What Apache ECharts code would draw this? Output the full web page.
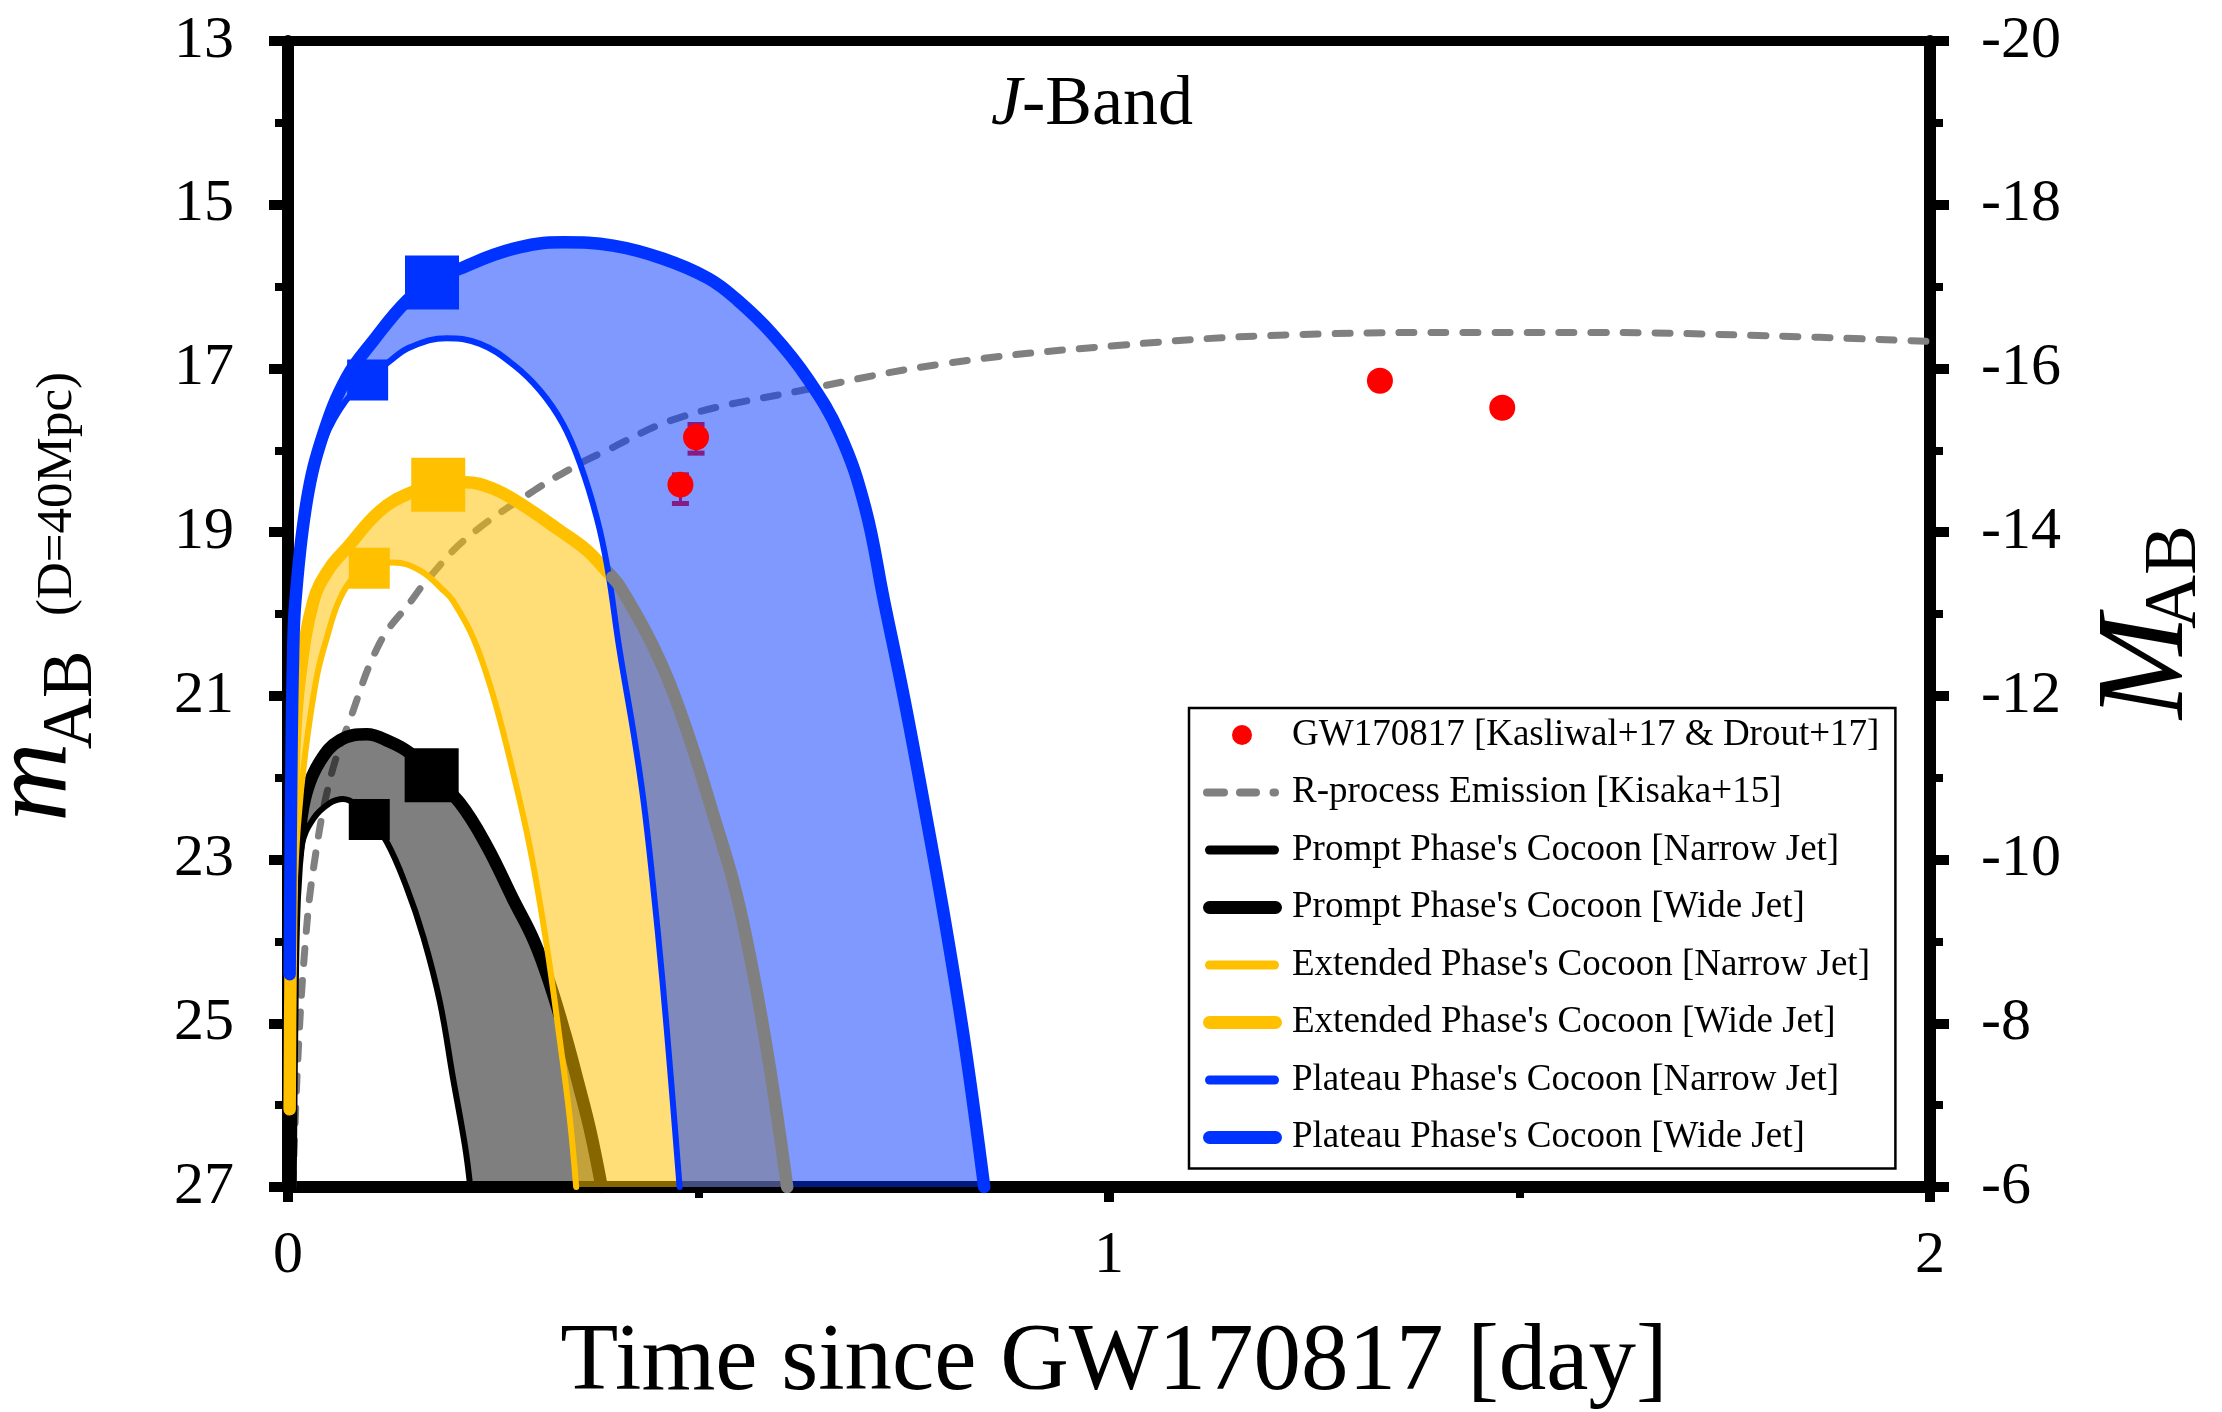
<!DOCTYPE html>
<html><head><meta charset="utf-8">
<script src="https://cdn.jsdelivr.net/npm/echarts@6/dist/echarts.min.js"></script>
<style>html,body{margin:0;padding:0;background:#fff}#c{width:2222px;height:1412px}</style>
</head><body><div id="c"></div>
<script>
// ---------------- data ----------------
const gwT      = [0.478, 0.497, 1.330, 1.479];
const gwM      = [18.42, 17.84, 17.15, 17.48];
const gwErrUp  = [0.12, 0.155, 0, 0];
const gwErrLow = [0.23, 0.195, 0, 0];

const rprocT = [0.006, 0.012, 0.021, 0.031, 0.051, 0.0755, 0.112, 0.150, 0.169, 0.218, 0.300, 0.356, 0.380, 0.477, 0.625, 0.800, 1.010, 1.220, 1.457, 1.590, 1.800, 2.000];
const rprocM = [27.0, 25.44, 24.03, 23.11, 22.03, 21.29, 20.35, 19.84, 19.59, 19.07, 18.49, 18.16, 18.04, 17.60, 17.27, 16.94, 16.72, 16.59, 16.56, 16.56, 16.60, 16.67];

const promptNarrowT = [0.003, 0.006, 0.010, 0.0167, 0.031, 0.051, 0.067, 0.083, 0.099, 0.120, 0.1445, 0.165, 0.185, 0.201, 0.2156, 0.222];
const promptNarrowM = [27.0, 25.2, 23.7, 22.83, 22.50, 22.31, 22.26, 22.33, 22.51, 22.78, 23.34, 23.95, 24.74, 25.67, 26.50, 27.0];
const promptWideT = [0.003, 0.005, 0.008, 0.0146, 0.0228, 0.039, 0.0633, 0.0958, 0.124, 0.1486, 0.175, 0.2095, 0.242, 0.274, 0.300, 0.320, 0.338, 0.354, 0.369, 0.382];
const promptWideM = [27.0, 25.0, 23.5, 22.64, 22.17, 21.80, 21.54, 21.47, 21.56, 21.70, 21.97, 22.31, 22.83, 23.48, 24.00, 24.55, 25.15, 25.75, 26.35, 27.0];

const extNarrowT = [0.002, 0.004, 0.007, 0.012, 0.021, 0.035, 0.047, 0.062, 0.080, 0.099, 0.128, 0.161, 0.189, 0.201, 0.226, 0.250, 0.274, 0.295, 0.315, 0.331, 0.343, 0.351];
const extNarrowM = [26.05, 24.8, 23.6, 22.6, 21.7, 20.77, 20.3, 19.84, 19.55, 19.44, 19.37, 19.47, 19.71, 19.84, 20.30, 21.00, 21.93, 22.87, 24.04, 25.20, 26.14, 27.0];
const extWideT = [0.002, 0.003, 0.005, 0.0075, 0.0146, 0.031, 0.050, 0.072, 0.112, 0.149, 0.183, 0.216, 0.250, 0.283, 0.331, 0.364, 0.384, 0.395];
const extWideM = [26.05, 24.5, 23.0, 21.7, 20.77, 19.84, 19.45, 19.19, 18.74, 18.52, 18.42, 18.39, 18.47, 18.65, 18.98, 19.22, 19.43, 19.55];
const extWideLateT = [0.395, 0.404, 0.437, 0.465, 0.494, 0.518, 0.5445, 0.567, 0.587, 0.608];
const extWideLateM = [19.55, 19.66, 20.24, 20.85, 21.67, 22.45, 23.35, 24.40, 25.55, 27.0];

const platNarrowT = [0.002, 0.004, 0.008, 0.014, 0.025, 0.045, 0.070, 0.097, 0.124, 0.149, 0.193, 0.234, 0.274, 0.307, 0.335, 0.356, 0.376, 0.389, 0.404, 0.421, 0.433, 0.444, 0.456, 0.4665, 0.477];
const platNarrowM = [24.4, 22.3, 20.3, 19.3, 18.5, 17.85, 17.4, 17.14, 16.91, 16.74, 16.63, 16.70, 16.95, 17.27, 17.68, 18.17, 18.82, 19.43, 20.45, 21.46, 22.28, 23.25, 24.47, 25.69, 27.0];
const platWideT = [0.002, 0.004, 0.006, 0.009, 0.023, 0.043, 0.0715, 0.104, 0.145, 0.1754, 0.2095, 0.274, 0.335, 0.396, 0.457, 0.512, 0.548, 0.590, 0.632, 0.672, 0.703, 0.726, 0.751, 0.776, 0.801, 0.825, 0.848];
const platWideM = [24.4, 22.0, 20.6, 19.84, 18.61, 17.80, 17.11, 16.66, 16.17, 15.95, 15.78, 15.54, 15.46, 15.50, 15.66, 15.90, 16.17, 16.58, 17.11, 17.80, 18.70, 19.84, 21.06, 22.4, 23.8, 25.3, 27.0];

// square markers: [prompt, extended, plateau]
const markNarrowT = [0.099, 0.099, 0.097];
const markNarrowM = [22.51, 19.44, 17.14];
const markWideT   = [0.175, 0.183, 0.1754];
const markWideM   = [21.97, 18.42, 15.95];

const xTickRange = [0, 2, 1];        // min, max, interval
const yLeftRange = [13, 27, 2];
const yRightRange = [-20, -6, 2];

const legendNames = [
  'GW170817 [Kasliwal+17 & Drout+17]',
  'R-process Emission [Kisaka+15]',
  "Prompt Phase's Cocoon [Narrow Jet]",
  "Prompt Phase's Cocoon [Wide Jet]",
  "Extended Phase's Cocoon [Narrow Jet]",
  "Extended Phase's Cocoon [Wide Jet]",
  "Plateau Phase's Cocoon [Narrow Jet]",
  "Plateau Phase's Cocoon [Wide Jet]"
];

// ---------------- styles ----------------
const FONT = 'Liberation Serif';
const BLACK = '#000000', YELLOW = '#FFC000', BLUE = '#0033FF', GRAY = '#808080';
const SM = 0.4;
const THIN = 6, THICK = 12.5;

function pairs(t, m) { return t.map((v, i) => [v, m[i]]); }

function lineSeries(name, t, m, color, width, z) {
  return { type: 'line', name, data: pairs(t, m), z, smooth: SM, symbol: 'none', showSymbol: false,
    lineStyle: { color, width, join: 'round', cap: 'round' }, itemStyle: { color, opacity: 1 }, silent: true };
}

function bandSeries(id, outT, outM, inT, inM, fill, z) {
  return {
    type: 'custom', name: id, z, silent: true, coordinateSystem: 'cartesian2d',
    data: [[outT[0], outM[0]]],
    renderItem: function (params, api) {
      const pts = [];
      for (let i = 0; i < outT.length; i++) pts.push(api.coord([outT[i], outM[i]]));
      const floor = yLeftRange[1] + 0.6;
      pts.push(api.coord([outT[outT.length - 1], floor]));
      pts.push(api.coord([inT[inT.length - 1], floor]));
      for (let i = inT.length - 1; i >= 1; i--) pts.push(api.coord([inT[i], inM[i]]));
      const cs = params.coordSys;
      return { type: 'polygon', shape: { points: pts, smooth: SM }, style: { fill },
        clipPath: { type: 'rect', shape: { x: cs.x, y: cs.y, width: cs.width, height: cs.height } } };
    }
  };
}

function markerSeries(id, color, idx, z) {
  return { type: 'scatter', name: id, z, silent: true, symbol: 'rect',
    data: [[markNarrowT[idx], markNarrowM[idx]], [markWideT[idx], markWideM[idx]]],
    symbolSize: (v, p) => (p.dataIndex === 0 ? 41 : 54),
    itemStyle: { color, opacity: 1 } };
}

const FRAME = 'M0,0M84,20';
const ICON_DOT = 'path://' + FRAME + 'M29,10a10,10 0 1,0 20,0a10,10 0 1,0 -20,0z';
const ICON_DASH = 'path://' + FRAME + 'M4,6h17a4,4 0 0,1 0,8h-17a4,4 0 0,1 0,-8z M37,6h16a4,4 0 0,1 0,8h-16a4,4 0 0,1 0,-8z M70.5,6h1.5a4,4 0 0,1 0,8h-1.5a4,4 0 0,1 0,-8z';
const ICON_THIN = 'path://' + FRAME + 'M6.5,5.5h65a4.5,4.5 0 0,1 0,9h-65a4.5,4.5 0 0,1 0,-9z';
const ICON_THICK = 'path://' + FRAME + 'M6.5,3.5h66a6.5,6.5 0 0,1 0,13h-66a6.5,6.5 0 0,1 0,-13z';
const legendIcons = [ICON_DOT, ICON_DASH, ICON_THIN, ICON_THICK, ICON_THIN, ICON_THICK, ICON_THIN, ICON_THICK];

const ERR_COLOR = '#851b85';

const chart = echarts.init(document.getElementById('c'), null, { renderer: 'canvas' });

const series = [
  Object.assign(lineSeries(legendNames[1], rprocT, rprocM, GRAY, 7, 1), { lineStyle: { color: GRAY, width: 7, type: [15, 17], cap: 'round' } }),
  bandSeries('promptBand', promptWideT, promptWideM, promptNarrowT, promptNarrowM, 'rgba(0,0,0,0.5)', 2),
  lineSeries(legendNames[2], promptNarrowT, promptNarrowM, BLACK, THIN, 3),
  lineSeries(legendNames[3], promptWideT, promptWideM, BLACK, THICK, 3),
  bandSeries('extBand', extWideT.concat(extWideLateT.slice(1)), extWideM.concat(extWideLateM.slice(1)), extNarrowT, extNarrowM, 'rgba(255,192,0,0.53)', 4),
  lineSeries(legendNames[4], extNarrowT, extNarrowM, YELLOW, THIN, 5),
  lineSeries(legendNames[5], extWideT, extWideM, YELLOW, THICK, 5),
  bandSeries('platBand', platWideT, platWideM, platNarrowT, platNarrowM, 'rgba(0,51,255,0.5)', 6),
  lineSeries(legendNames[6], platNarrowT, platNarrowM, BLUE, THIN, 7),
  lineSeries(legendNames[7], platWideT, platWideM, BLUE, THICK, 7),
  lineSeries('extLate', extWideLateT, extWideLateM, GRAY, THICK, 8),
  markerSeries('mkPrompt', BLACK, 0, 9),
  markerSeries('mkExt', YELLOW, 1, 9),
  markerSeries('mkPlat', BLUE, 2, 9),
  {
    type: 'custom', name: 'gwErr', z: 10, silent: true, coordinateSystem: 'cartesian2d',
    data: gwT.map((t, i) => [t, gwM[i], gwErrUp[i], gwErrLow[i]]), encode: { x: 0, y: 1 },
    renderItem: function (params, api) {
      const t = api.value(0), m = api.value(1), eu = api.value(2), el = api.value(3);
      if (!eu && !el) return null;
      const a = api.coord([t, m - eu]), b = api.coord([t, m + el]);
      const h = 8.5;
      return { type: 'group', children: [
        { type: 'line', shape: { x1: a[0], y1: a[1], x2: b[0], y2: b[1] }, style: { stroke: ERR_COLOR, lineWidth: 3 } },
        { type: 'line', shape: { x1: a[0] - h, y1: a[1], x2: a[0] + h, y2: a[1] }, style: { stroke: ERR_COLOR, lineWidth: 5 } },
        { type: 'line', shape: { x1: b[0] - h, y1: b[1], x2: b[0] + h, y2: b[1] }, style: { stroke: ERR_COLOR, lineWidth: 5 } }
      ] };
    }
  },
  { type: 'scatter', name: legendNames[0], z: 11, silent: true, symbol: 'circle', symbolSize: 26,
    data: pairs(gwT, gwM), itemStyle: { color: '#FF0000', opacity: 1 } }
];

const axisCommon = {
  axisLine: { show: true, onZero: false, lineStyle: { color: '#000', width: 12 } },
  splitLine: { show: false }, minorSplitLine: { show: false }
};

const option = {
  animation: false,
  backgroundColor: '#fff',
  textStyle: { fontFamily: FONT },
  grid: { left: 288, right: 292, top: 41, bottom: 225, show: true, borderColor: '#000', borderWidth: 10,
          backgroundColor: 'transparent', containLabel: false, outerBoundsMode: 'none' },
  xAxis: Object.assign({}, axisCommon, {
    type: 'value', min: xTickRange[0], max: xTickRange[1], interval: xTickRange[2],
    axisTick: { show: true, length: 15, lineStyle: { color: '#000', width: 10 } },
    minorTick: { show: true, splitNumber: 2, length: 11, lineStyle: { color: '#000', width: 8 } },
    axisLabel: { fontFamily: FONT, fontSize: 60, color: '#000', margin: 39 }
  }),
  yAxis: [
    Object.assign({}, axisCommon, {
      type: 'value', position: 'left', inverse: true, min: yLeftRange[0], max: yLeftRange[1], interval: yLeftRange[2],
      axisTick: { show: true, length: 19, lineStyle: { color: '#000', width: 10 } },
      minorTick: { show: true, splitNumber: 2, length: 13, lineStyle: { color: '#000', width: 8 } },
      axisLabel: { fontFamily: FONT, fontSize: 60, color: '#000', margin: 54 }
    }),
    Object.assign({}, axisCommon, {
      type: 'value', position: 'right', inverse: true, min: yRightRange[0], max: yRightRange[1], interval: yRightRange[2],
      axisTick: { show: true, length: 19, lineStyle: { color: '#000', width: 10 } },
      minorTick: { show: true, splitNumber: 2, length: 13, lineStyle: { color: '#000', width: 8 } },
      axisLabel: { fontFamily: FONT, fontSize: 60, color: '#000', margin: 51 }
    })
  ],
  legend: {
    orient: 'vertical', left: 1189, top: 708, z: 20,
    itemWidth: 84, itemHeight: 20, itemGap: 17.5,
    padding: [7, 16, 11, 14],
    borderColor: '#000', borderWidth: 2.5, backgroundColor: '#fff',
    selectedMode: false,
    itemStyle: { borderWidth: 0 },
    textStyle: { fontFamily: FONT, fontSize: 37, color: '#000', lineHeight: 40 },
    data: legendNames.map((n, i) => ({ name: n, icon: legendIcons[i] }))
  },
  graphic: [
    { type: 'text', x: 1092, y: 106, silent: true,
      style: { text: '{i|J}-Band', fontFamily: FONT, fontSize: 70, fill: '#000', align: 'center', verticalAlign: 'middle',
        rich: { i: { fontFamily: FONT, fontSize: 70, fontStyle: 'italic', fill: '#000' } } } },
    { type: 'text', x: 1114, y: 1364, silent: true,
      style: { text: 'Time since GW170817 [day]', fontFamily: FONT, fontSize: 95, fill: '#000', align: 'center', verticalAlign: 'middle' } },
    { type: 'text', x: 37, y: 782, rotation: Math.PI / 2, silent: true,
      style: { text: 'm', fontFamily: FONT, fontSize: 110, fontStyle: 'italic', fill: '#000', align: 'center', verticalAlign: 'middle' } },
    { type: 'text', x: 72, y: 700, rotation: Math.PI / 2, silent: true,
      style: { text: 'AB', fontFamily: FONT, fontSize: 71, fill: '#000', align: 'center', verticalAlign: 'middle' } },
    { type: 'text', x: 58, y: 494, rotation: Math.PI / 2, silent: true,
      style: { text: '(D=40Mpc)', fontFamily: FONT, fontSize: 51, fill: '#000', align: 'center', verticalAlign: 'middle' } },
    { type: 'text', x: 2149, y: 667, rotation: Math.PI / 2, silent: true,
      style: { text: 'M', fontFamily: FONT, fontSize: 125, fontStyle: 'italic', fill: '#000', align: 'center', verticalAlign: 'middle' } },
    { type: 'text', x: 2175, y: 577, rotation: Math.PI / 2, silent: true,
      style: { text: 'AB', fontFamily: FONT, fontSize: 75, fill: '#000', align: 'center', verticalAlign: 'middle' } }
  ],
  series
};
chart.setOption(option);
</script></body></html>
